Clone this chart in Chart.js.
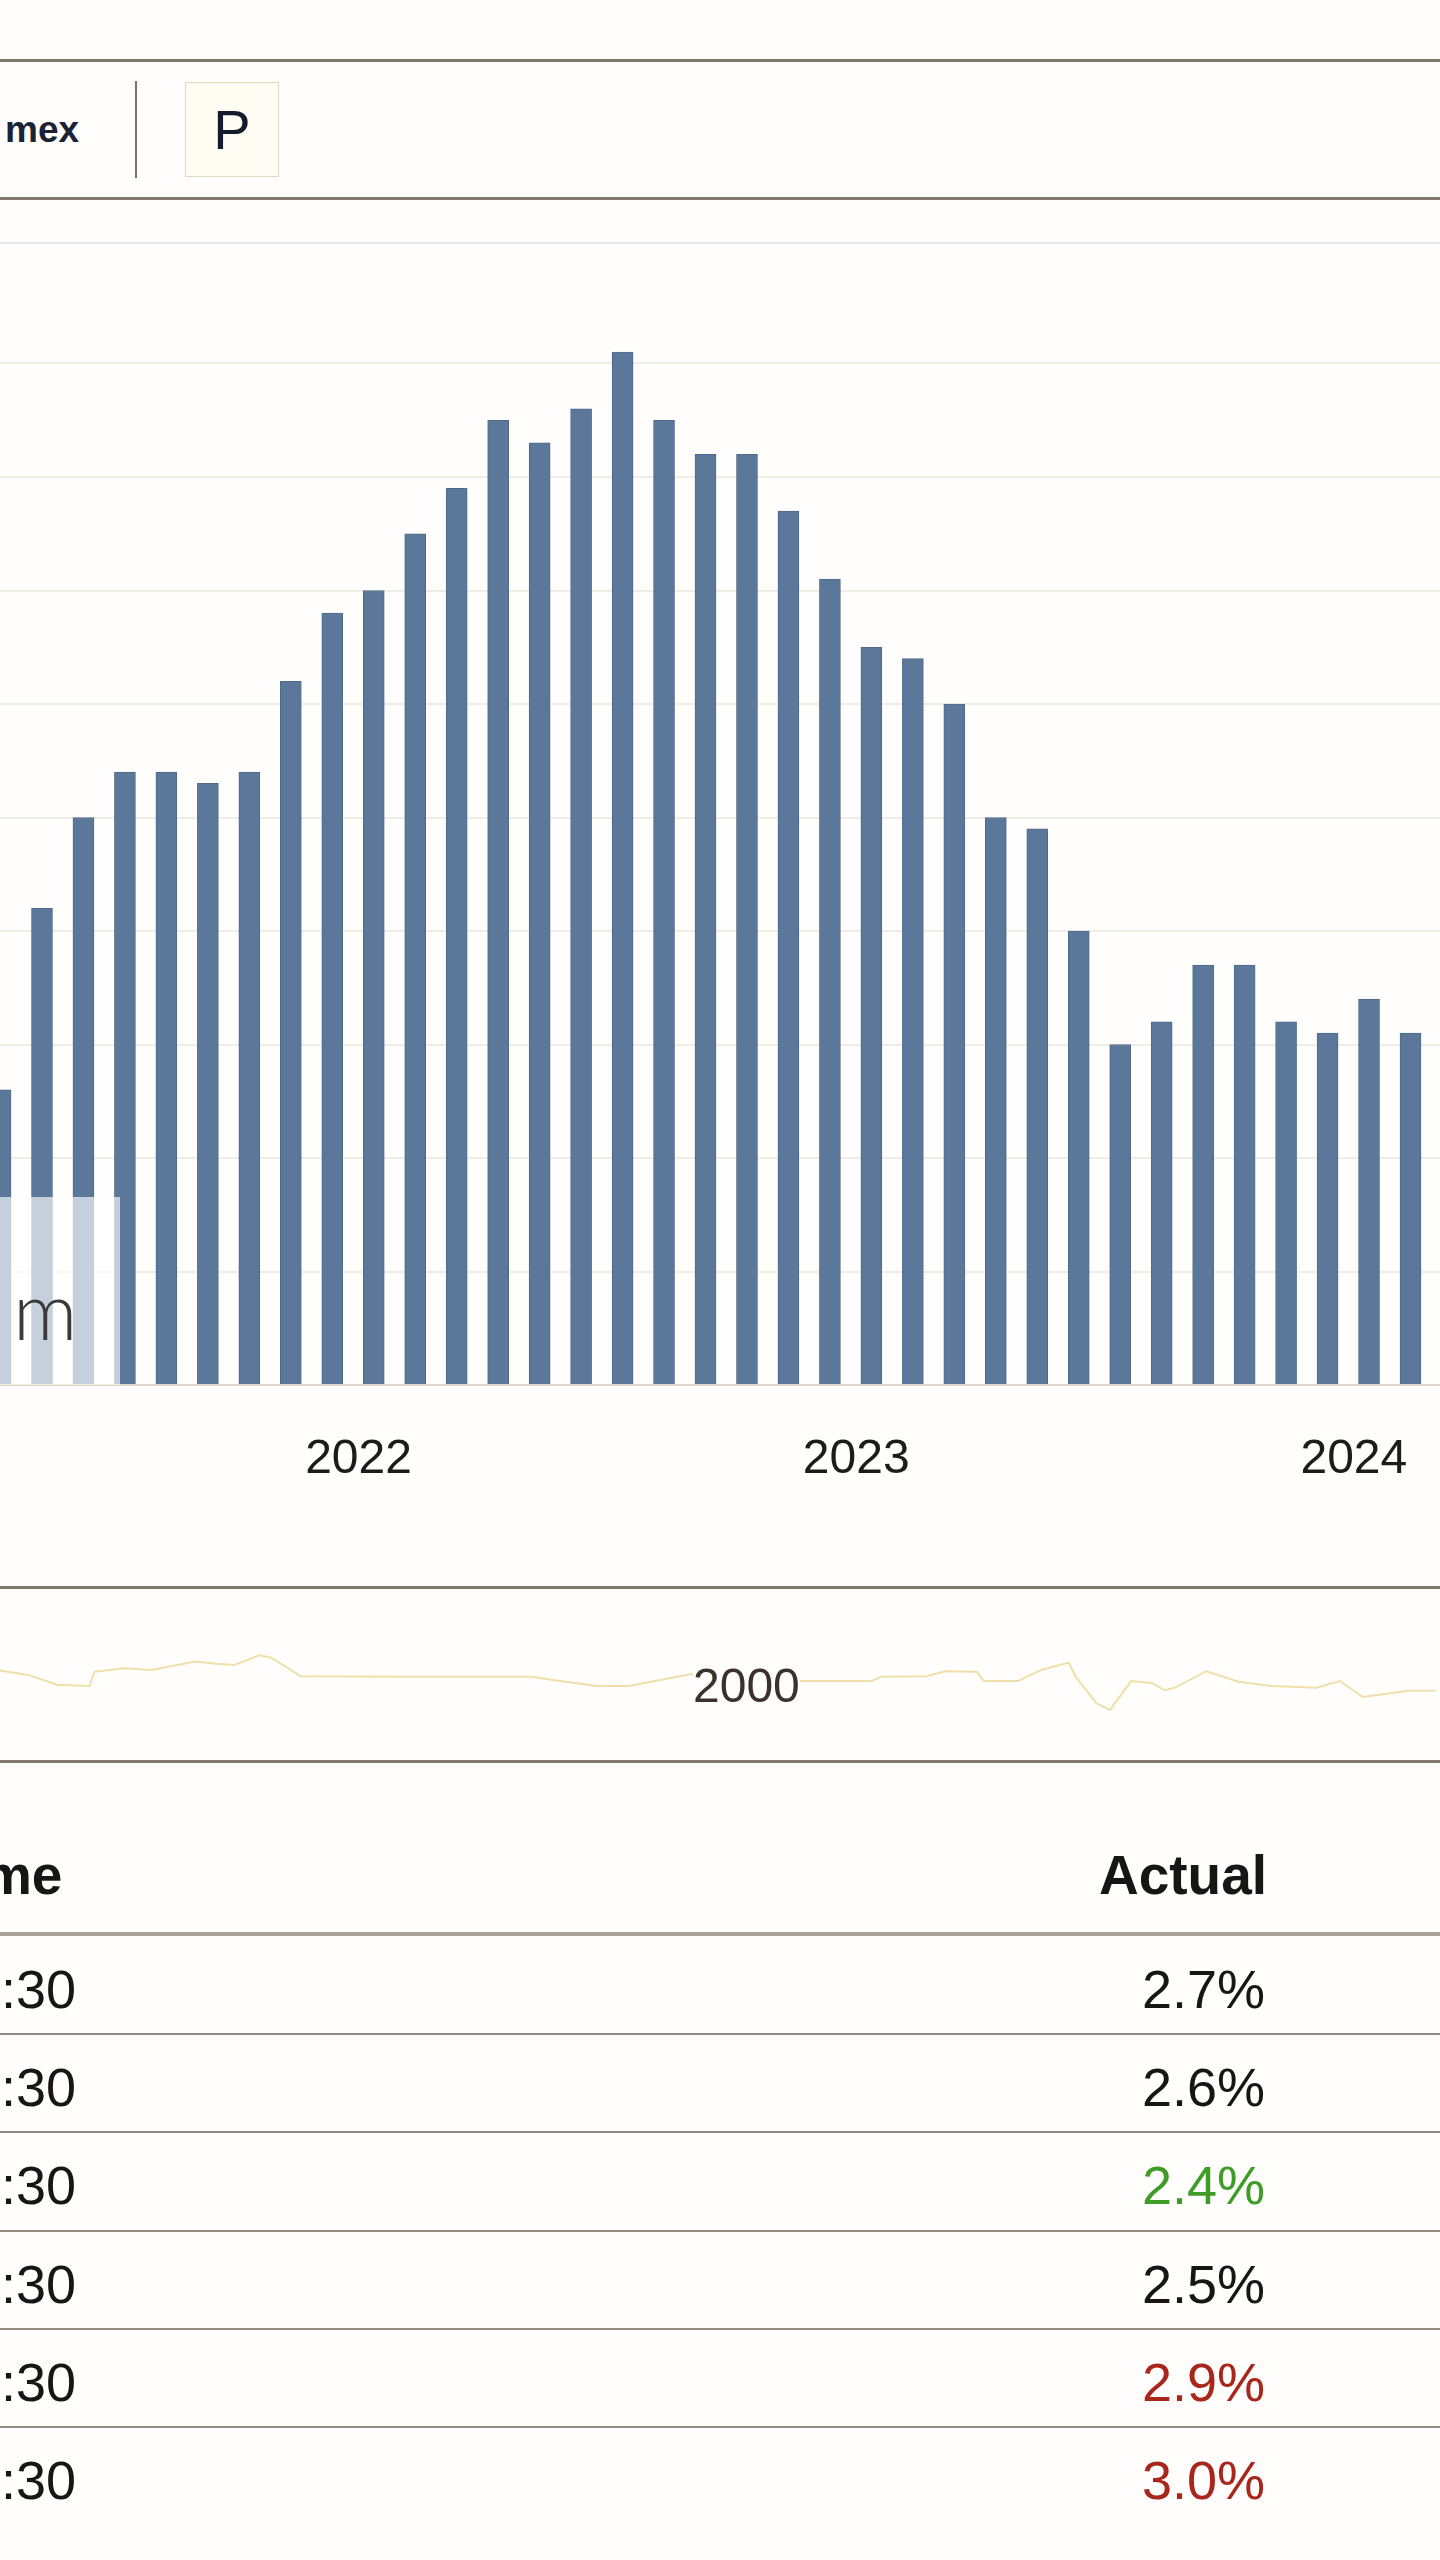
<!DOCTYPE html>
<html>
<head>
<meta charset="utf-8">
<title>US CPI YoY</title>
<script src="https://cdn.jsdelivr.net/npm/chart.js@4.4.1/dist/chart.umd.min.js"></script>
<style>
  html, body { margin: 0; padding: 0; background: #fffefc; }
  body {
    position: relative; width: 1440px; height: 2560px; overflow: hidden;
    font-family: 'Liberation Sans', Arial, sans-serif; color: #161616;
  }
  .abs { position: absolute; }
  .rule { position: absolute; left: 0; width: 1440px; height: 3px; background: #82786d; }
  .rowline { position: absolute; left: 0; width: 1440px; height: 2px; background: #938a7f; }
  #brand { left: 5px; top: 111px; font-size: 37px; line-height: 37px; font-weight: bold; color: #1a2233; }
  #sep { left: 135px; top: 81px; width: 2px; height: 97px; background: #7c7268; }
  #pbox {
    left: 185px; top: 82px; width: 92px; height: 93px; border: 1.5px solid #e6d8bd;
    background: #fffcf4; display: flex; align-items: center; justify-content: center;
    font-size: 56px; line-height: 56px; color: #141b2b;
  }
  #barChart { left: 0; top: 240px; }
  #fade { left: 0; top: 1197px; width: 120px; height: 188px; background: rgba(255,255,255,0.65); }
  #fadeMark { left: 13px; top: 1269px; font-family: Lato, sans-serif; font-weight: 300; font-size: 80px; line-height: 80px; color: #3a3a3a; }
  #navChart { left: 0; top: 1590px; }
  #navLabel { left: 693px; top: 1662px; font-size: 48px; line-height: 48px; background: #fffefc; color: #3a332c; }
  .hdr { font-size: 55px; line-height: 55px; font-weight: bold; top: 1848px; }
  .cell { font-size: 54px; line-height: 54px; }
</style>
</head>
<body>

<div class="rule" style="top:59px"></div>
<div id="brand" class="abs">mex</div>
<div id="sep" class="abs"></div>
<div id="pbox" class="abs">P</div>
<div class="rule" style="top:197px"></div>
<div class="abs" style="left:0;top:242px;width:1440px;height:2px;background:#e8e9ec"></div>

<canvas id="barChart" class="abs" width="1440" height="1280"></canvas>
<div id="fade" class="abs"></div>
<div id="fadeMark" class="abs">m</div>

<div class="rule" style="top:1586px"></div>
<canvas id="navChart" class="abs" width="1440" height="170"></canvas>
<div id="navLabel" class="abs">2000</div>
<div class="rule" style="top:1760px"></div>

<div class="hdr abs" style="left:-65px">Time</div>
<div class="hdr abs" style="left:1067px;width:200px;text-align:right">Actual</div>
<div class="abs" style="left:0;top:1932px;width:1440px;height:4px;background:#aba398"></div>
<div id="rows"></div>

<script>
// CPI YoY (%), by reference month
const months = [
  '2021-03', '2021-04', '2021-05', '2021-06', '2021-07', '2021-08', '2021-09', '2021-10', '2021-11', '2021-12',
  '2022-01', '2022-02', '2022-03', '2022-04', '2022-05', '2022-06', '2022-07', '2022-08', '2022-09', '2022-10', '2022-11', '2022-12',
  '2023-01', '2023-02', '2023-03', '2023-04', '2023-05', '2023-06', '2023-07', '2023-08', '2023-09', '2023-10', '2023-11', '2023-12',
  '2024-01'
];
const cpiValues = [
  2.6, 4.2, 5.0, 5.4, 5.4, 5.3, 5.4, 6.2, 6.8, 7.0,
  7.5, 7.9, 8.5, 8.3, 8.6, 9.1, 8.5, 8.2, 8.2, 7.7, 7.1, 6.5,
  6.4, 6.0, 5.0, 4.9, 4.0, 3.0, 3.2, 3.7, 3.7, 3.2, 3.1, 3.4,
  3.1
];
const yearLabels = ['2022', '2023', '2024'];

// navigator: long history, year / value
const navYears = [
  1984.21, 1984.84, 1985.52, 1986.25, 1986.36, 1987.04, 1987.67, 1988.66, 1989.13, 1989.54,
  1990.12, 1990.39, 1991.06, 1993.62, 1996.35, 1996.77, 1997.81, 1998.54, 2000.00, 2002.39,
  2004.07, 2004.28, 2005.32, 2005.74, 2006.47, 2006.63, 2007.40, 2007.93, 2008.56, 2008.72,
  2009.19, 2009.50, 2009.98, 2010.45, 2010.75, 2010.97, 2011.70, 2012.43, 2013.17, 2014.21,
  2014.74, 2015.26, 2016.30, 2016.92
];
const navValues = [
  4.3, 3.6, 2.0, 1.8, 4.1, 4.7, 4.4, 5.8, 5.4, 5.2,
  6.8, 6.4, 3.4, 3.3, 3.3, 2.8, 1.8, 1.8, 3.8, 2.6,
  2.6, 3.3, 3.4, 4.2, 4.1, 2.6, 2.6, 4.4, 5.6, 3.3,
  -1.0, -2.1, 2.6, 2.3, 1.1, 1.5, 4.2, 2.5, 1.8, 1.5,
  2.6, 0.0, 1.0, 1.0
];

// history table
const releaseTimes = ['08:30', '08:30', '08:30', '08:30', '08:30', '08:30'];
const actuals = ['2.7%', '2.6%', '2.4%', '2.5%', '2.9%', '3.0%'];
const vsForecast = [0, 0, 1, 0, -1, -1];

// bars sit on the release date, around the 12th of the following month
function releasePos(ym) {
  const [y, m] = ym.split('-').map(Number);
  return (y - 2021) * 12 + m + 11 / 30;
}

document.addEventListener('DOMContentLoaded', function() {
  Chart.defaults.font.family = "'Liberation Sans', Arial, sans-serif";

  new Chart(document.getElementById('barChart'), {
    type: 'bar',
    data: {
      datasets: [{
        data: months.map((m, i) => ({ x: releasePos(m), y: cpiValues[i] })),
        backgroundColor: '#5b789a',
        borderColor: '#4f6a8a',
        borderWidth: 1,
        barThickness: 21
      }]
    },
    options: {
      responsive: false,
      devicePixelRatio: 1,
      animation: false,
      layout: { padding: { top: 10, left: 0, right: 0, bottom: 0 } },
      plugins: { legend: { display: false }, tooltip: { enabled: false } },
      scales: {
        x: {
          type: 'linear',
          min: 3.354,
          max: 38.078,
          offset: false,
          bounds: 'data',
          grace: 0,
          grid: { display: false, offset: false },
          border: { display: true, color: '#ddd5c6', width: 2 },
          afterBuildTicks: (scale) => {
            scale.ticks = yearLabels.map(y => ({ value: (Number(y) - 2021) * 12 }));
          },
          afterFit: (scale) => {
            scale.height = 135;
            scale.paddingLeft = 0;
            scale.paddingRight = 0;
          },
          ticks: {
            autoSkip: false,
            maxRotation: 0,
            padding: 38,
            color: '#1c1c1c',
            font: { size: 48 },
            callback: (v) => String(2021 + v / 12)
          }
        },
        y: {
          min: 0,
          max: 10,
          afterFit: (scale) => { scale.width = 0; },
          border: { display: false },
          grid: {
            drawTicks: false,
            lineWidth: 2,
            color: (ctx) => (ctx.tick && ctx.tick.value === 10) ? 'rgba(0,0,0,0)' : '#f0ede6'
          },
          ticks: { display: false, stepSize: 1 }
        }
      }
    }
  });

  new Chart(document.getElementById('navChart'), {
    type: 'line',
    data: {
      datasets: [{
        data: navYears.map((yr, i) => ({ x: yr, y: navValues[i] })),
        borderColor: '#efdfa8',
        borderWidth: 2,
        pointRadius: 0,
        tension: 0
      }]
    },
    options: {
      responsive: false,
      devicePixelRatio: 1,
      animation: false,
      layout: { padding: 0 },
      plugins: { legend: { display: false }, tooltip: { enabled: false } },
      scales: {
        x: { type: 'linear', display: false, min: 1984.21, max: 2017.02 },
        y: { display: false, min: -10.26, max: 17.43 }
      }
    }
  });

  // table rows
  const rows = document.getElementById('rows');
  const rowStep = 98.3;
  actuals.forEach((val, i) => {
    const mid = 1987 + rowStep * i;
    const t = document.createElement('div');
    t.className = 'cell abs';
    t.style.cssText = `left:-124px;width:200px;text-align:right;top:${mid - 25.4}px`;
    t.textContent = releaseTimes[i];
    rows.appendChild(t);

    const a = document.createElement('div');
    a.className = 'cell abs';
    a.style.cssText = `left:1065px;width:200px;text-align:right;top:${mid - 25.4}px`;
    a.style.color = vsForecast[i] > 0 ? '#3f9c27' : (vsForecast[i] < 0 ? '#a8261b' : '#161616');
    a.textContent = val;
    rows.appendChild(a);

    if (i < actuals.length - 1) {
      const l = document.createElement('div');
      l.className = 'rowline';
      l.style.top = (2034 + rowStep * i - 1) + 'px';
      rows.appendChild(l);
    }
  });
});
</script>
</body>
</html>
